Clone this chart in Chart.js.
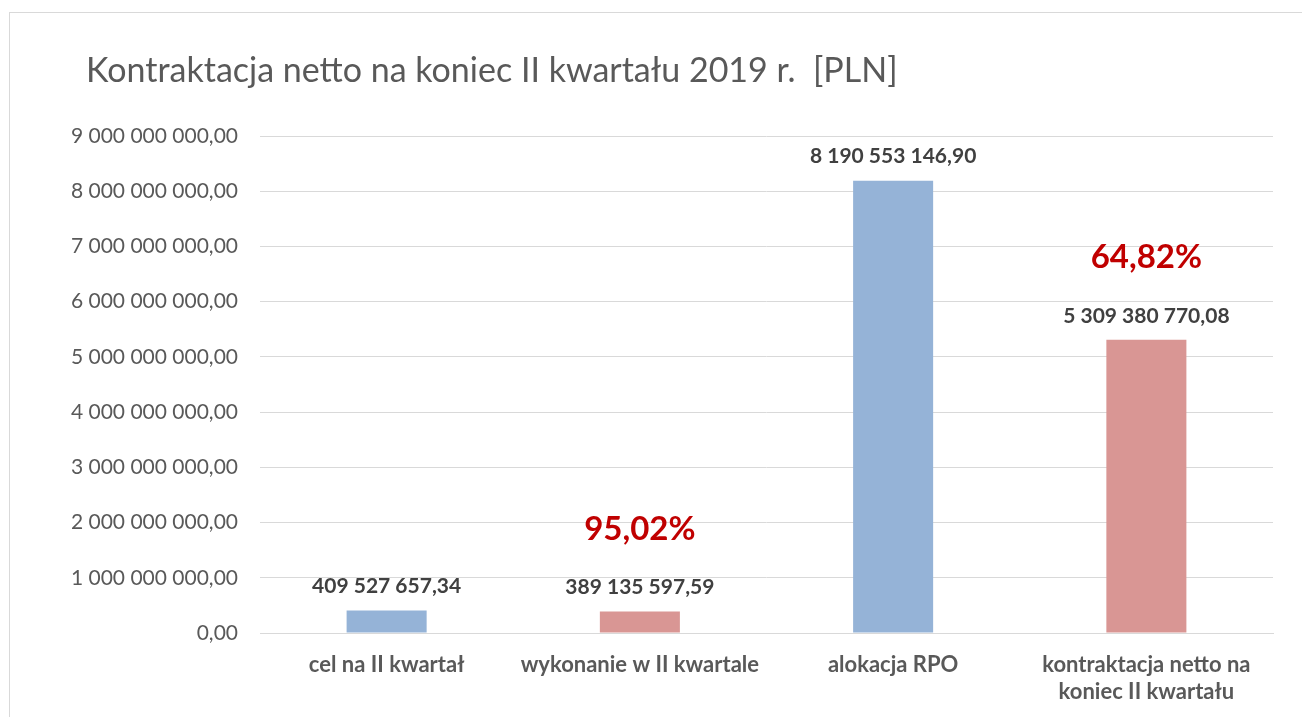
<!DOCTYPE html>
<html>
<head>
<meta charset="utf-8">
<script src="https://cdn.jsdelivr.net/npm/chart.js@4"></script>
<style>
  html, body { margin: 0; padding: 0; background: #fff; overflow: hidden; }
  #frame { position: absolute; left: 9px; top: 12px; width: 1320px; height: 740px; border: 1px solid #d9d9d9; }
  #wrap { position: absolute; left: 0; top: 0; width: 1302px; height: 717px; }
</style>
</head>
<body>
<div id="frame"></div>
<div id="wrap"><canvas id="myChart"></canvas></div>
<script>
var titleText = "Kontraktacja netto na koniec II kwartału 2019 r.  [PLN]";
var categories = [["cel na II kwartał"], ["wykonanie w II kwartale"], ["alokacja RPO"], ["kontraktacja netto na", "koniec II kwartału"]];
var values = [409527657.34, 389135597.59, 8190553146.90, 5309380770.08];
var percentLabels = ["", "95,02%", "", "64,82%"];
var barColors = ["#95B3D7", "#D99694", "#95B3D7", "#D99694"];

function formatPL(v) {
  var parts = v.toFixed(2).split(".");
  return parts[0].replace(/\B(?=(\d{3})+(?!\d))/g, " ") + "," + parts[1];
}

var labelsPlugin = {
  id: "barLabels",
  afterDatasetsDraw: function (chart) {
    var ctx = chart.ctx;
    var meta = chart.getDatasetMeta(0);
    ctx.save();
    ctx.textAlign = "center";
    ctx.textBaseline = "middle";
    meta.data.forEach(function (bar, i) {
      ctx.font = "bold 21px Lato";
      ctx.fillStyle = "#404040";
      ctx.fillText(formatPL(values[i]), bar.x, bar.y - 24);
      if (percentLabels[i]) {
        ctx.font = "bold 33px Lato";
        ctx.fillStyle = "#C00000";
        ctx.fillText(percentLabels[i], bar.x, bar.y - 82);
      }
    });
    ctx.font = "34px Lato";
    ctx.fillStyle = "#595959";
    ctx.textAlign = "left";
    ctx.fillText(titleText, 86, 71);
    ctx.restore();
  }
};

var ctx = document.getElementById("myChart").getContext("2d");
var myChart = new Chart(ctx, {
  type: "bar",
  data: {
    labels: categories,
    datasets: [{
      data: values,
      backgroundColor: barColors,
      categoryPercentage: 1,
      barPercentage: 0.316
    }]
  },
  options: {
    responsive: true,
    maintainAspectRatio: false,
    animation: false,
    layout: { padding: { left: 0, right: 29, top: 136, bottom: 0 } },
    plugins: {
      legend: { display: false },
      tooltip: { enabled: false }
    },
    scales: {
      y: {
        min: 0,
        max: 9000000000,
        afterFit: function (scale) { scale.width = 260; },
        ticks: {
          stepSize: 1000000000,
          padding: 22,
          color: "#595959",
          font: { family: "Lato", size: 21 },
          callback: function (value) { return formatPL(value); }
        },
        grid: { color: "#d9d9d9", lineWidth: 1, drawTicks: false },
        border: { display: false }
      },
      x: {
        afterFit: function (scale) { scale.height = 84; },
        ticks: {
          padding: 18,
          color: "#595959",
          font: { family: "Lato", size: 22, weight: "bold", lineHeight: 1.23 }
        },
        grid: { display: false, drawTicks: false },
        border: { display: true, color: "#d9d9d9", width: 1 }
      }
    }
  },
  plugins: [labelsPlugin]
});
</script>
</body>
</html>
